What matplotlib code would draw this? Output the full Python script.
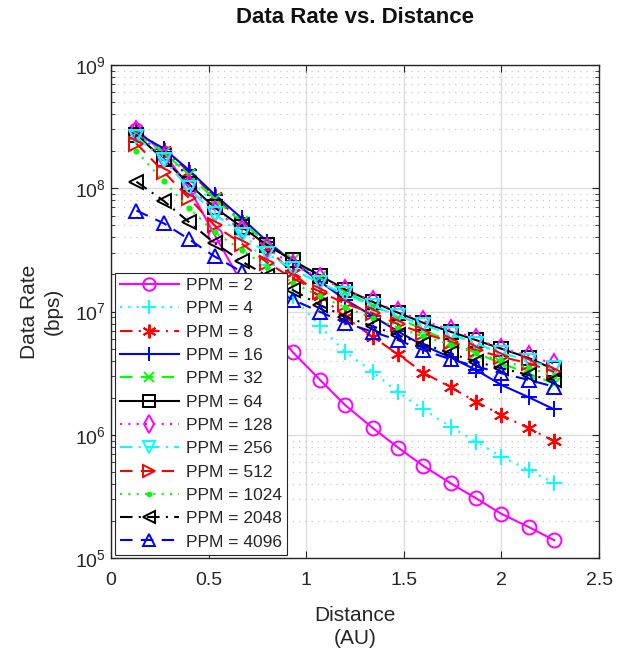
import numpy as np
import matplotlib
matplotlib.use("Agg")
import matplotlib.pyplot as plt
from matplotlib.ticker import LogLocator, NullFormatter

plt.rcParams['font.family'] = ['Liberation Sans', 'DejaVu Sans']

# distance in AU
distance = [0.13, 0.27, 0.40, 0.53, 0.67, 0.80, 0.93, 1.07, 1.20, 1.34,
            1.47, 1.60, 1.74, 1.87, 2.00, 2.14, 2.27]

# data rate (bps) per PPM order
ppm_2 = [2.95e8, 1.95e8, 1.0e8, 4.2e7, 1.7e7, 8.5e6, 4.7e6, 2.8e6, 1.74e6, 1.14e6,
         7.9e5, 5.6e5, 4.05e5, 3.06e5, 2.29e5, 1.79e5, 1.40e5]
ppm_4 = [2.8e8, 1.95e8, 1.2e8, 7.5e7, 4.2e7, 2.4e7, 1.33e7, 7.6e6, 4.72e6, 3.25e6,
         2.22e6, 1.61e6, 1.16e6, 8.8e5, 6.66e5, 5.2e5, 4.05e5]
ppm_8 = [2.9e8, 2.05e8, 1.36e8, 8.6e7, 5.3e7, 3.3e7, 2.05e7, 1.35e7, 9.0e6, 6.25e6,
         4.5e6, 3.2e6, 2.43e6, 1.86e6, 1.45e6, 1.13e6, 8.9e5]
ppm_16 = [2.8e8, 2.1e8, 1.4e8, 8.9e7, 5.7e7, 3.7e7, 2.55e7, 1.75e7, 1.25e7, 9.2e6,
          6.9e6, 5.3e6, 4.25e6, 3.36e6, 2.54e6, 2.02e6, 1.61e6]
ppm_32 = [2.75e8, 1.95e8, 1.28e8, 8.2e7, 5.3e7, 3.6e7, 2.6e7, 1.9e7, 1.45e7, 1.12e7,
          8.9e6, 7.1e6, 5.7e6, 4.6e6, 3.8e6, 3.15e6, 2.6e6]
ppm_64 = [2.7e8, 1.72e8, 1.08e8, 7.0e7, 4.85e7, 3.46e7, 2.6e7, 1.96e7, 1.51e7, 1.2e7,
          9.8e6, 8.1e6, 6.86e6, 5.87e6, 5.0e6, 4.2e6, 3.4e6]
ppm_128 = [2.9e8, 1.75e8, 1.06e8, 6.6e7, 4.6e7, 3.25e7, 2.4e7, 1.87e7, 1.5e7, 1.22e7,
           1.0e7, 8.4e6, 7.1e6, 6.0e6, 5.0e6, 4.4e6, 3.76e6]
ppm_256 = [2.6e8, 1.7e8, 1.0e8, 6.2e7, 4.2e7, 2.95e7, 2.2e7, 1.7e7, 1.38e7, 1.12e7,
           9.2e6, 7.8e6, 6.6e6, 5.5e6, 4.6e6, 4.0e6, 3.47e6]
ppm_512 = [2.3e8, 1.36e8, 8.3e7, 5.0e7, 3.55e7, 2.5e7, 1.86e7, 1.45e7, 1.16e7, 9.7e6,
           7.9e6, 6.66e6, 5.7e6, 4.87e6, 4.3e6, 3.8e6, 3.25e6]
ppm_1024 = [2.0e8, 1.14e8, 6.9e7, 4.4e7, 3.15e7, 2.3e7, 1.72e7, 1.33e7, 1.08e7, 8.9e6,
            7.4e6, 6.3e6, 5.4e6, 4.6e6, 4.0e6, 3.5e6, 3.0e6]
ppm_2048 = [1.13e8, 7.9e7, 5.3e7, 3.6e7, 2.55e7, 1.95e7, 1.5e7, 1.13e7, 9.1e6, 7.6e6,
            6.45e6, 5.46e6, 4.58e6, 3.92e6, 3.47e6, 3.06e6, 2.79e6]
ppm_4096 = [6.6e7, 5.2e7, 3.85e7, 2.8e7, 2.1e7, 1.6e7, 1.25e7, 9.96e6, 8.1e6, 6.86e6,
            5.87e6, 4.87e6, 4.1e6, 3.6e6, 3.16e6, 2.79e6, 2.46e6]

labels = ['PPM = 2', 'PPM = 4', 'PPM = 8', 'PPM = 16', 'PPM = 32', 'PPM = 64',
          'PPM = 128', 'PPM = 256', 'PPM = 512', 'PPM = 1024', 'PPM = 2048', 'PPM = 4096']
series = [ppm_2, ppm_4, ppm_8, ppm_16, ppm_32, ppm_64,
          ppm_128, ppm_256, ppm_512, ppm_1024, ppm_2048, ppm_4096]

# matlab style line specs; (6, 2, 0) is an asterisk like matlab '*'
styles = [
    ('#ff00ff', '-', 'o'),
    ('#00ffff', ':', '+'),
    ('#ff0000', '-.', (6, 2, 0)),
    ('#0000ff', '-', '+'),
    ('#00ff00', '--', 'x'),
    ('#000000', '-', 's'),
    ('#ff00ff', ':', 'd'),
    ('#00ffff', '-.', 'v'),
    ('#ff0000', '--', '>'),
    ('#00ff00', ':', '.'),
    ('#000000', '-.', '<'),
    ('#0000ff', '--', '^'),
]
dash_map = {'-': None, '--': (6, 4), ':': (1, 3), '-.': (6, 3, 1, 3)}
size_map = {'o': 10, '+': 11, 's': 9.5, 'd': 10, 'v': 10, '>': 10, '<': 10, '^': 10,
            'x': 8, '.': 6}

fig = plt.figure(figsize=(6.17, 6.56), dpi=100)
ax = fig.add_axes([0.18, 0.149, 0.791, 0.752])

for vals, lab, (col, ls, mk) in zip(series, labels, styles):
    ms = size_map.get(mk, 11) if isinstance(mk, str) else 11
    line, = ax.plot(distance, vals, color=col, linestyle=ls, marker=mk, markersize=ms,
                    markerfacecolor=col if mk == '.' else 'none',
                    markeredgecolor=col, markeredgewidth=1.4, linewidth=1.5, label=lab)
    if dash_map[ls] is not None:
        line.set_dashes(dash_map[ls])

ax.set_yscale('log')
ax.set_xlim(0, 2.5)
ax.set_ylim(1e5, 1e9)
ax.set_xticks([0, 0.5, 1, 1.5, 2, 2.5])
ax.set_xticklabels(['0', '0.5', '1', '1.5', '2', '2.5'])
ax.yaxis.set_major_locator(LogLocator(base=10, numticks=10))
ax.yaxis.set_minor_locator(LogLocator(base=10, subs=np.arange(2, 10), numticks=10))
ax.yaxis.set_minor_formatter(NullFormatter())

txt = '#262626'
ax.tick_params(which='both', direction='in', top=True, right=True, colors=txt, labelsize=14)
ax.tick_params(which='major', length=5, width=0.8)
ax.tick_params(which='minor', length=3, width=0.6)
ax.tick_params(axis='x', pad=10)
for s in ax.spines.values():
    s.set_color(txt)
    s.set_linewidth(1.0)

ax.grid(True, which='major', color='#dcdcdc', linewidth=1.0, linestyle='-')
ax.grid(True, which='minor', axis='y', color='#c8c8c8', linewidth=0.9, linestyle=(0, (1, 4)))
ax.set_axisbelow(True)

ax.set_xlabel('Distance\n(AU)', fontsize=15, color=txt, labelpad=12, linespacing=1.3)
ax.set_ylabel('Data Rate\n(bps)', fontsize=15, color=txt, labelpad=9, linespacing=1.3)
ax.set_title('Data Rate vs. Distance', fontsize=16, fontweight='bold', color='#111111', pad=30)

leg = ax.legend(loc='lower left', fontsize=12.5, handlelength=3.4, labelspacing=0.47,
                borderaxespad=0.2, fancybox=False, framealpha=1, edgecolor='#262626',
                borderpad=0.3, handletextpad=0.4, markerscale=0.9)
leg.get_frame().set_linewidth(0.8)
for t in leg.get_texts():
    t.set_color(txt)

fig.savefig('out.png', dpi=100)
